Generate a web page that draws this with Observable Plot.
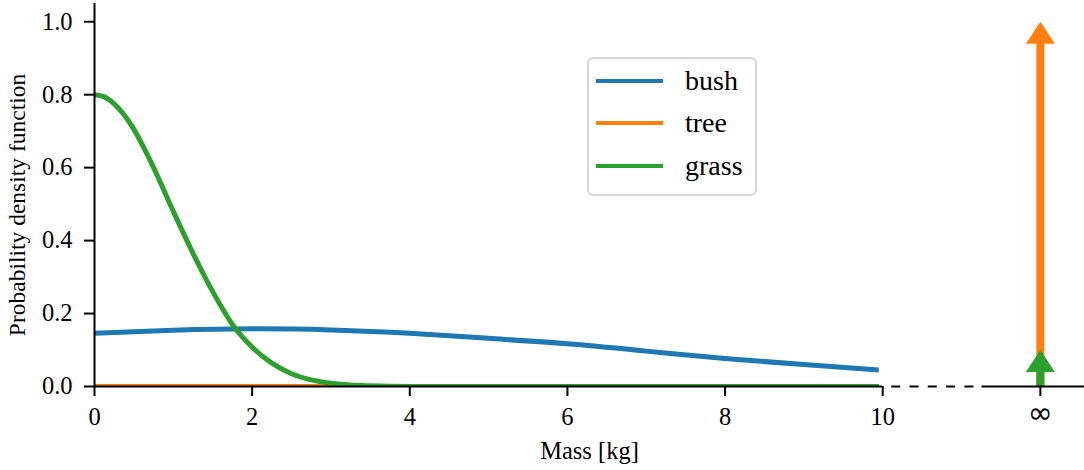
<!DOCTYPE html>
<html>
<head>
<meta charset="utf-8">
<script src="https://cdn.jsdelivr.net/npm/d3@7"></script>
<script src="https://cdn.jsdelivr.net/npm/@observablehq/plot@0.6"></script>
<style>
html, body { margin: 0; padding: 0; background: #fff; }
#wrap { position: relative; width: 1084px; height: 470px; font-family: "Liberation Serif", "Times New Roman", serif; }
#wrap svg { position: absolute; left: 0; top: 0; font-family: "Liberation Serif", "Times New Roman", serif; }
.legend { position: absolute; left: 587px; top: 57px; width: 170px; height: 139px; box-sizing: border-box;
  border: 2px solid #d6d6d6; border-radius: 6px; background: rgba(255,255,255,0.8); }
.legend .row { position: absolute; left: 7px; height: 0; }
.legend .swatch { position: absolute; left: 0; top: -2px; width: 67px; height: 4px; }
.legend .lab { position: absolute; left: 89px; top: -17px; font-size: 28px; line-height: 34px; white-space: nowrap; color: #000; }
</style>
</head>
<body>
<div id="wrap"></div>
<script>
// ---- data ----
const seriesNames = ["bush", "tree", "grass"];
const seriesColors = ["#1f77b4", "#ff7f0e", "#2ca02c"];

const bushMass = [0, 1, 2, 3, 4, 5, 6, 7, 8, 9, 9.95];
const bushDensity = [0.146, 0.154, 0.158, 0.155, 0.146, 0.132, 0.117, 0.097, 0.077, 0.06, 0.045];

const treeMass = [0, 9.95];
const treeDensity = [0, 0];

const grassMass = [0, 0.125, 0.25, 0.375, 0.5, 0.625, 0.75, 1, 1.25, 1.5, 1.75, 2, 2.25, 2.5, 2.75, 3, 3.25, 3.5, 4, 5, 9.95];
const grassDensity = [0.8, 0.794, 0.775, 0.745, 0.705, 0.655, 0.60, 0.48, 0.365, 0.26, 0.17, 0.108, 0.064, 0.035, 0.018, 0.009, 0.004, 0.002, 0.0003, 0, 0];

// point masses drawn at infinity
const atomSeries = ["tree", "grass"];
const atomMass = [1.0, 0.1];
const infinityPosition = 12;
const infinityLabel = "\u221e";

const xTicks = [0, 2, 4, 6, 8, 10];
const xTickLabels = ["0", "2", "4", "6", "8", "10"];
const yTicks = [0, 0.2, 0.4, 0.6, 0.8, 1.0];
const yTickLabels = ["0.0", "0.2", "0.4", "0.6", "0.8", "1.0"];
const xDomain = [0, 12.56];
const yDomain = [0, 1.05];
const axisBreak = [10, 11.26];
const xLabel = "Mass [kg]";
const yLabel = "Probability density function";

// ---- build tables ----
const curveOf = {bush: "natural", tree: "linear", grass: "monotone-x"};
const seriesRows = {
  bush: bushMass.map((m, i) => ({series: "bush", mass: m, density: bushDensity[i]})),
  tree: treeMass.map((m, i) => ({series: "tree", mass: m, density: treeDensity[i]})),
  grass: grassMass.map((m, i) => ({series: "grass", mass: m, density: grassDensity[i]}))
};
const atoms = atomSeries.map((s, i) => ({series: s, mass: atomMass[i], base: 0, pos: infinityPosition}));

const arrowHead = {
  draw(ctx) {
    ctx.moveTo(0, 0);
    ctx.lineTo(14.5, 22);
    ctx.lineTo(-14.5, 22);
    ctx.closePath();
  }
};

const allXTicks = [...xTicks, infinityPosition];
const fmtX = d => (d === infinityPosition ? infinityLabel : xTickLabels[xTicks.indexOf(d)]);
const FS = 24.5;

const chart = Plot.plot({
  width: 1084,
  height: 470,
  marginLeft: 94,
  marginRight: 0,
  marginTop: 3,
  marginBottom: 84,
  style: {fontFamily: "Liberation Serif, serif", fontSize: FS + "px", color: "#000", background: "transparent"},
  x: {domain: xDomain},
  y: {domain: yDomain},
  color: {domain: seriesNames, range: seriesColors},
  marks: [
    // point masses at infinity (shaft + filled head)
    Plot.ruleX(atoms, {x: "pos", y1: "mass", y2: "base", stroke: "series", strokeWidth: 8, insetTop: 21}),
    Plot.dot(atoms, {x: "pos", y: "mass", fill: "series", stroke: "none", symbol: arrowHead}),
    // density curves
    ...seriesNames.map(s => Plot.line(seriesRows[s], {x: "mass", y: "density", stroke: "series", strokeWidth: 5,
      curve: curveOf[s], clip: true, strokeLinejoin: "round", strokeLinecap: "butt"})),
    // spines
    Plot.ruleX([0], {x: d => d, y1: yDomain[0], y2: yDomain[1], strokeWidth: 2, stroke: "#000"}),
    Plot.ruleY([0], {y: d => d, x1: xDomain[0], x2: axisBreak[0], strokeWidth: 2, stroke: "#000"}),
    Plot.ruleY([0], {y: d => d, x1: axisBreak[0], x2: axisBreak[1], strokeWidth: 2, stroke: "#000",
      strokeDasharray: "9,9.3", strokeDashoffset: 9.3}),
    Plot.ruleY([0], {y: d => d, x1: axisBreak[1], x2: xDomain[1], strokeWidth: 2, stroke: "#000"}),
    // axes
    Plot.axisX(allXTicks, {tickSize: 10, tickPadding: 11, strokeWidth: 2, fontSize: FS, label: null, tickFormat: fmtX}),
    Plot.axisY(yTicks, {tickSize: 10, tickPadding: 12, strokeWidth: 2, fontSize: FS, label: null,
      tickFormat: d => yTickLabels[yTicks.indexOf(d)]}),
    // axis titles
    Plot.text([xLabel], {frameAnchor: "bottom", dy: 65, text: d => d, fontSize: FS, lineAnchor: "middle", textAnchor: "middle"}),
    Plot.text([yLabel], {frameAnchor: "left", dx: -77, dy: 10, rotate: -90, text: d => d, fontSize: FS - 1,
      lineAnchor: "middle", textAnchor: "middle"})
  ]
});

// the infinity tick label is drawn with a wider math glyph
d3.select(chart).selectAll("text").filter(function() { return this.textContent === infinityLabel; })
  .style("font-family", "DejaVu Sans, sans-serif").style("font-size", "30px").attr("dy", "-6px");

const wrap = document.getElementById("wrap");
wrap.appendChild(chart);

// legend (inside the plot area)
const legend = document.createElement("div");
legend.className = "legend";
const rowCenters = [24, 66, 109];
seriesNames.forEach((name, i) => {
  const row = document.createElement("div");
  row.className = "row";
  row.style.top = (rowCenters[i] - 2) + "px";
  const sw = document.createElement("span");
  sw.className = "swatch";
  sw.style.background = seriesColors[i];
  const lab = document.createElement("span");
  lab.className = "lab";
  lab.textContent = name;
  row.appendChild(sw);
  row.appendChild(lab);
  legend.appendChild(row);
});
wrap.appendChild(legend);
</script>
</body>
</html>
